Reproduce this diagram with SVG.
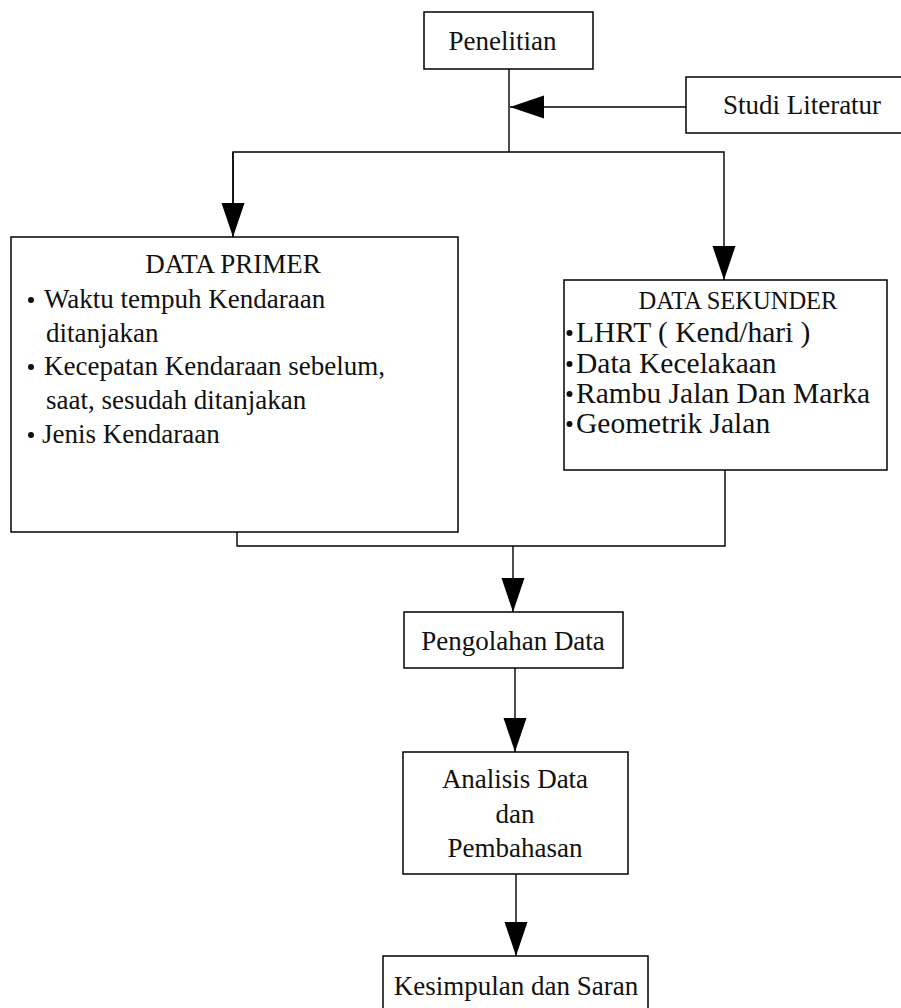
<svg xmlns="http://www.w3.org/2000/svg" width="901" height="1008" viewBox="0 0 901 1008">
<defs>
<style>
.box{fill:#fff;stroke:#000;stroke-width:1.5}
.t{font-family:"Liberation Serif","Times New Roman",serif;font-size:27px;fill:#111}
.c{text-anchor:middle}
.s{font-size:29.5px}
.ln{fill:none;stroke:#000;stroke-width:1.4}
.b{fill:#111}
</style>
<marker id="ah" markerUnits="userSpaceOnUse" markerWidth="36" markerHeight="24" refX="34" refY="11.5" orient="auto">
<path d="M0,0 L34,11.5 L0,23 Z" fill="#000"/>
</marker>
</defs>
<rect width="901" height="1008" fill="#fff"/>
<g id="connectors">
<line class="ln" x1="509" y1="69" x2="509" y2="152"/>
<line class="ln" x1="686" y1="107" x2="510" y2="107" marker-end="url(#ah)"/>
<polyline class="ln" points="233,237 233,152 724,152 724,280" marker-end="url(#ah)"/>
<line class="ln" x1="233" y1="152" x2="233" y2="237" marker-end="url(#ah)"/>
<polyline class="ln" points="237,532 237,546 725,546 725,470"/>
<line class="ln" x1="513" y1="546" x2="513" y2="612" marker-end="url(#ah)"/>
<line class="ln" x1="515" y1="668" x2="515" y2="752" marker-end="url(#ah)"/>
<line class="ln" x1="516" y1="874" x2="516" y2="956" marker-end="url(#ah)"/>
</g>
<g id="penelitian">
<rect class="box" x="424" y="12" width="169" height="57"/>
<text class="t c" x="502.5" y="50">Penelitian</text>
</g>
<g id="studi-literatur">
<rect class="box" x="686" y="77" width="220" height="56"/>
<text class="t c" x="802" y="114">Studi Literatur</text>
</g>
<g id="data-primer">
<rect class="box" x="11" y="237" width="447" height="295"/>
<text class="t c" x="233" y="273">DATA PRIMER</text>
<circle class="b" cx="31" cy="300" r="3"/>
<text class="t" x="44" y="308">Waktu tempuh Kendaraan</text>
<text class="t" x="46" y="342">ditanjakan</text>
<circle class="b" cx="31" cy="367" r="3"/>
<text class="t" x="44" y="375">Kecepatan Kendaraan sebelum,</text>
<text class="t" x="46" y="409">saat, sesudah ditanjakan</text>
<circle class="b" cx="31" cy="435" r="3"/>
<text class="t" x="42" y="443">Jenis Kendaraan</text>
</g>
<g id="data-sekunder">
<rect class="box" x="564" y="280" width="323" height="190"/>
<text class="t c" x="738" y="309" style="font-size:24.5px">DATA SEKUNDER</text>
<circle class="b" cx="569.5" cy="333" r="3"/>
<text class="t s" x="576" y="342">LHRT ( Kend/hari )</text>
<circle class="b" cx="569.5" cy="364" r="3"/>
<text class="t s" x="576" y="373">Data Kecelakaan</text>
<circle class="b" cx="569.5" cy="394" r="3"/>
<text class="t s" x="576" y="403">Rambu Jalan Dan Marka</text>
<circle class="b" cx="569.5" cy="424" r="3"/>
<text class="t s" x="576" y="433">Geometrik Jalan</text>
</g>
<g id="pengolahan-data">
<rect class="box" x="404" y="612" width="219" height="56"/>
<text class="t c" x="513" y="650">Pengolahan Data</text>
</g>
<g id="analisis-data">
<rect class="box" x="403" y="752" width="225" height="122"/>
<text class="t c" x="515" y="788">Analisis Data</text>
<text class="t c" x="515" y="823">dan</text>
<text class="t c" x="515" y="857">Pembahasan</text>
</g>
<g id="kesimpulan">
<rect class="box" x="383" y="956" width="265" height="60"/>
<text class="t c" x="516" y="995">Kesimpulan dan Saran</text>
</g>
</svg>
